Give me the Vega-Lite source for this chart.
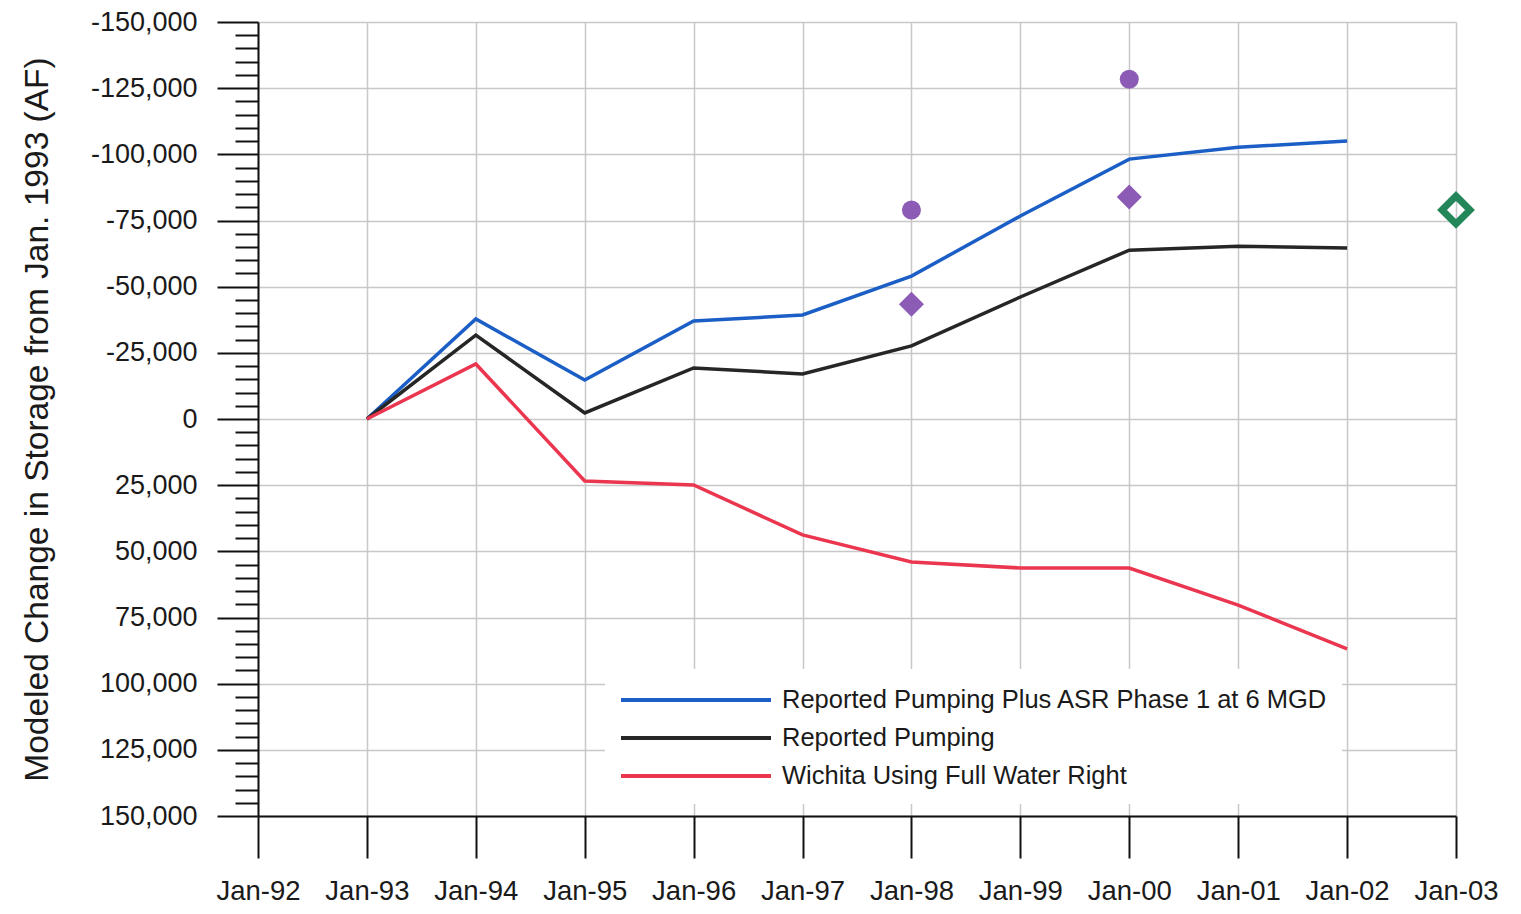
{
  "$schema": "https://vega.github.io/schema/vega-lite/v6.json",
  "width": 1198,
  "height": 794,
  "autosize": {"type": "none"},
  "padding": {"left": 258, "top": 22, "right": 65, "bottom": 98},
  "background": "white",
  "config": {"view": {"stroke": null}, "font": "Liberation Sans"},
  "datasets": {
    "lines": [
      {"year": 1993, "series": "Reported Pumping Plus ASR Phase 1 at 6 MGD", "value": 0},
      {"year": 1994, "series": "Reported Pumping Plus ASR Phase 1 at 6 MGD", "value": -37800},
      {"year": 1995, "series": "Reported Pumping Plus ASR Phase 1 at 6 MGD", "value": -14700},
      {"year": 1996, "series": "Reported Pumping Plus ASR Phase 1 at 6 MGD", "value": -37000},
      {"year": 1997, "series": "Reported Pumping Plus ASR Phase 1 at 6 MGD", "value": -39300},
      {"year": 1998, "series": "Reported Pumping Plus ASR Phase 1 at 6 MGD", "value": -54000},
      {"year": 1999, "series": "Reported Pumping Plus ASR Phase 1 at 6 MGD", "value": -76700},
      {"year": 2000, "series": "Reported Pumping Plus ASR Phase 1 at 6 MGD", "value": -98200},
      {"year": 2001, "series": "Reported Pumping Plus ASR Phase 1 at 6 MGD", "value": -102700},
      {"year": 2002, "series": "Reported Pumping Plus ASR Phase 1 at 6 MGD", "value": -105000},
      {"year": 1993, "series": "Reported Pumping", "value": 0},
      {"year": 1994, "series": "Reported Pumping", "value": -31700},
      {"year": 1995, "series": "Reported Pumping", "value": -2300},
      {"year": 1996, "series": "Reported Pumping", "value": -19300},
      {"year": 1997, "series": "Reported Pumping", "value": -17000},
      {"year": 1998, "series": "Reported Pumping", "value": -27600},
      {"year": 1999, "series": "Reported Pumping", "value": -46100},
      {"year": 2000, "series": "Reported Pumping", "value": -63800},
      {"year": 2001, "series": "Reported Pumping", "value": -65300},
      {"year": 2002, "series": "Reported Pumping", "value": -64600},
      {"year": 1993, "series": "Wichita Using Full Water Right", "value": 0},
      {"year": 1994, "series": "Wichita Using Full Water Right", "value": -20800},
      {"year": 1995, "series": "Wichita Using Full Water Right", "value": 23400},
      {"year": 1996, "series": "Wichita Using Full Water Right", "value": 24900},
      {"year": 1997, "series": "Wichita Using Full Water Right", "value": 43800},
      {"year": 1998, "series": "Wichita Using Full Water Right", "value": 54000},
      {"year": 1999, "series": "Wichita Using Full Water Right", "value": 56300},
      {"year": 2000, "series": "Wichita Using Full Water Right", "value": 56300},
      {"year": 2001, "series": "Wichita Using Full Water Right", "value": 70300},
      {"year": 2002, "series": "Wichita Using Full Water Right", "value": 86900}
    ],
    "points": [
      {"year": 1998, "kind": "circle", "value": -79000},
      {"year": 2000, "kind": "circle", "value": -128400},
      {"year": 1998, "kind": "diamond", "value": -43400},
      {"year": 2000, "kind": "diamond", "value": -83900},
      {"year": 2003, "kind": "open", "value": -79000}
    ]
  },
  "encoding": {
    "x": {
      "field": "year", "type": "quantitative",
      "scale": {"domain": [1992, 2003], "nice": false, "zero": false},
      "axis": {
        "title": null,
        "values": [1992, 1993, 1994, 1995, 1996, 1997, 1998, 1999, 2000, 2001, 2002, 2003],
        "labelExpr": "'Jan-' + slice(format(datum.value, 'd'), 2)",
        "labelFontSize": 27.5, "labelColor": "#1a1a1a", "labelPadding": 19, "labelFlush": false,
        "tickSize": 42, "tickWidth": 2, "tickColor": "#111111",
        "domainColor": "#111111", "domainWidth": 2,
        "grid": true, "gridColor": "#c8c8c8", "gridWidth": 1.5
      }
    },
    "y": {
      "field": "value", "type": "quantitative",
      "scale": {"domain": [-150000, 150000], "reverse": true, "nice": false, "zero": false},
      "axis": {
        "title": "Modeled Change in Storage from Jan. 1993 (AF)",
        "titleFontSize": 33.5, "titleFontWeight": "normal", "titleColor": "#1a1a1a", "titlePadding": 36,
        "values": [-150000, -145000, -140000, -135000, -130000, -125000, -120000, -115000, -110000, -105000, -100000, -95000, -90000, -85000, -80000, -75000, -70000, -65000, -60000, -55000, -50000, -45000, -40000, -35000, -30000, -25000, -20000, -15000, -10000, -5000, 0, 5000, 10000, 15000, 20000, 25000, 30000, 35000, 40000, 45000, 50000, 55000, 60000, 65000, 70000, 75000, 80000, 85000, 90000, 95000, 100000, 105000, 110000, 115000, 120000, 125000, 130000, 135000, 140000, 145000, 150000],
        "labelExpr": "datum.value % 25000 === 0 ? replace(format(datum.value, ','), '−', '-') : ''",
        "labelOverlap": false,
        "labelFontSize": 27, "labelColor": "#1a1a1a", "labelPadding": 20,
        "tickSize": {"condition": {"test": "datum.value % 25000 === 0", "value": 41}, "value": 23},
        "tickWidth": 2, "tickColor": "#111111",
        "domainColor": "#111111", "domainWidth": 2,
        "grid": true, "gridColor": "#c8c8c8", "gridWidth": 1.5,
        "gridOpacity": {"condition": {"test": "datum.value % 25000 === 0", "value": 1}, "value": 0}
      }
    }
  },
  "layer": [
    {
      "data": {"name": "lines"},
      "mark": {"type": "line", "strokeWidth": 3.5, "clip": false},
      "encoding": {
        "color": {
          "field": "series", "type": "nominal",
          "scale": {
            "domain": ["Reported Pumping Plus ASR Phase 1 at 6 MGD", "Reported Pumping", "Wichita Using Full Water Right"],
            "range": ["#1b5fc6", "#262626", "#eb3650"]
          },
          "legend": {
            "title": null, "orient": "none", "legendX": 347, "legendY": 647,
            "fillColor": "white", "padding": 14,
            "symbolType": "M-1,0L9,0", "symbolSize": 900, "symbolStrokeWidth": 4,
            "labelFontSize": 25.5, "labelColor": "#1a1a1a", "labelOffset": 129, "labelLimit": 800,
            "rowPadding": 7
          }
        }
      }
    },
    {
      "data": {"name": "points"},
      "transform": [{"filter": "datum.kind === 'circle'"}],
      "mark": {"type": "point", "shape": "circle", "filled": true, "size": 361, "color": "#8b5bb5", "opacity": 1, "clip": false}
    },
    {
      "data": {"name": "points"},
      "transform": [{"filter": "datum.kind === 'diamond'"}],
      "mark": {"type": "point", "shape": "diamond", "filled": true, "size": 625, "color": "#8b5bb5", "opacity": 1, "clip": false}
    },
    {
      "data": {"name": "points"},
      "transform": [{"filter": "datum.kind === 'open'"}],
      "mark": {"type": "point", "shape": "diamond", "filled": false, "size": 784, "strokeWidth": 7, "color": "#23875a", "opacity": 1, "clip": false}
    }
  ]
}
